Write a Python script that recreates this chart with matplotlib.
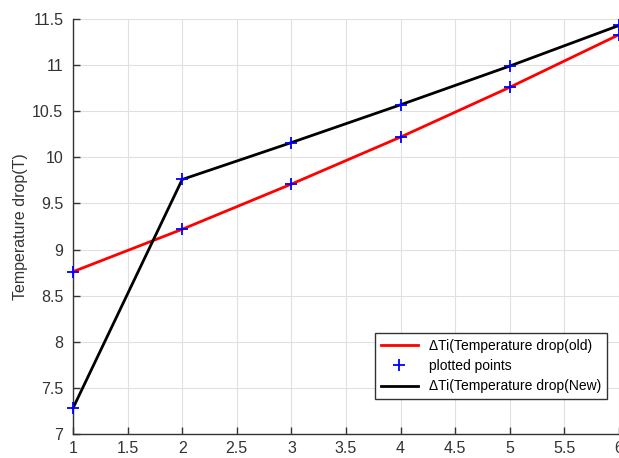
import matplotlib
matplotlib.use("Agg")
import matplotlib.pyplot as plt

x = [1, 2, 3, 4, 5, 6]
old_drop = [8.76, 9.22, 9.71, 10.22, 10.76, 11.33]
new_drop = [7.28, 9.76, 10.16, 10.57, 10.99, 11.43]
xticks = [1, 1.5, 2, 2.5, 3, 3.5, 4, 4.5, 5, 5.5, 6]
yticks = [7, 7.5, 8, 8.5, 9, 9.5, 10, 10.5, 11, 11.5]

plt.rcParams['font.family'] = ['Liberation Sans', 'DejaVu Sans']

fig = plt.figure(figsize=(6.19, 4.58), dpi=100)
ax = fig.add_axes([73/619, 1-434/458, 1-73/619, (434-19)/458])

ax.plot(x, old_drop, color='red', lw=2, label='ΔTi(Temperature drop(old)', zorder=3)
ax.plot(x, old_drop, ls='none', marker='+', ms=9, mew=1.3, color='blue',
        label='plotted points', zorder=4, clip_on=False)
ax.plot(x, new_drop, color='black', lw=2, label='ΔTi(Temperature drop(New)', zorder=3)
ax.plot(x, new_drop, ls='none', marker='+', ms=9, mew=1.3, color='blue', zorder=4, clip_on=False)

ax.set_xlim(1, 6)
ax.set_ylim(7, 11.5)
ax.set_xticks(xticks)
ax.set_xticklabels([f'{t:g}' for t in xticks])
ax.set_yticks(yticks)
ax.set_yticklabels([f'{t:g}' for t in yticks])
ax.grid(True, color='#e0e0e0', lw=0.8)
ax.set_axisbelow(True)
for s in ['top', 'right']:
    ax.spines[s].set_visible(False)
for s in ['left', 'bottom']:
    ax.spines[s].set_color('#333333')
    ax.spines[s].set_linewidth(1.0)
ax.tick_params(direction='in', length=5, width=1, colors='#333333',
               labelsize=11.5, labelcolor='#333333')
ax.tick_params(axis='x', pad=5)
ax.tick_params(axis='y', pad=7)
ax.set_ylabel('Temperature drop(T)', fontsize=11.5, color='#333333', labelpad=3)

leg = ax.legend(loc='lower right', bbox_to_anchor=(607/619, 1-399/458),
                bbox_transform=fig.transFigure,
                fontsize=10, fancybox=False, edgecolor='#333333', framealpha=1,
                borderaxespad=0, handlelength=2.7, borderpad=0.4, labelspacing=0.45)
leg.get_frame().set_linewidth(1.0)

fig.savefig('out.png', dpi=100)
